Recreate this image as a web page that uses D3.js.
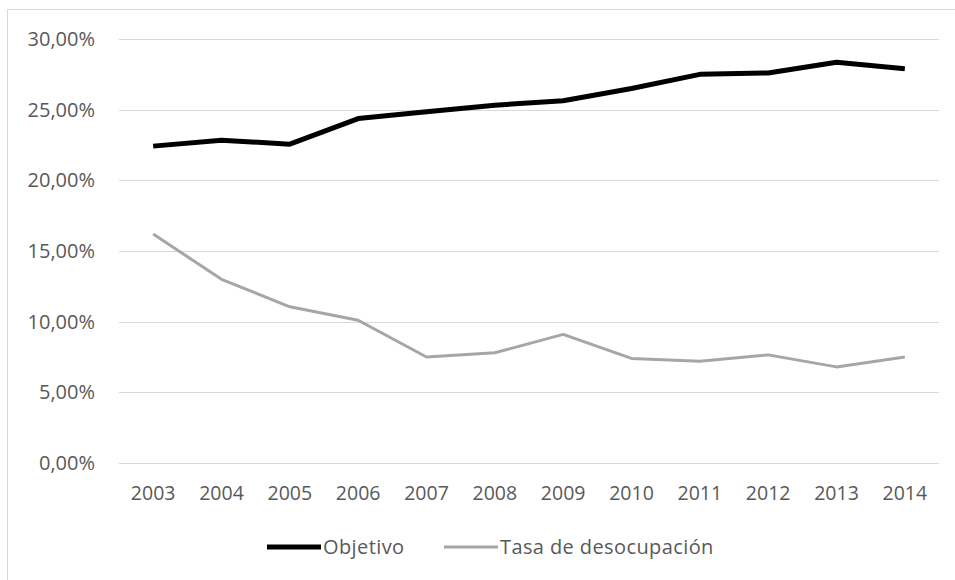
<!DOCTYPE html>
<html>
<head>
<meta charset="utf-8">
<script src="https://cdn.jsdelivr.net/npm/d3@7"></script>
<style>
  body { margin: 0; background: #fff; }
  svg text { font-family: "Open Sans", sans-serif; fill: #595959; }
</style>
</head>
<body>
<div id="chart"></div>
<script>
// --- Data ---
const years = ['2003', '2004', '2005', '2006', '2007', '2008', '2009', '2010', '2011', '2012', '2013', '2014'];
const objetivo = [22.42, 22.84, 22.56, 24.37, 24.85, 25.32, 25.63, 26.5, 27.5, 27.6, 28.35, 27.9];
const desocupacion = [16.2, 13.0, 11.05, 10.1, 7.5, 7.8, 9.1, 7.4, 7.2, 7.65, 6.8, 7.5];
const yTicks = [0, 5, 10, 15, 20, 25, 30];

const width = 955, height = 580;
const margin = { top: 39, right: 16, bottom: 117, left: 119 };

const svg = d3.select('#chart').append('svg')
  .attr('width', width)
  .attr('height', height);

// outer frame (only left/top edges visible in the source)
svg.append('rect')
  .attr('x', 7.5).attr('y', 9.5)
  .attr('width', width + 20).attr('height', height + 20)
  .attr('fill', 'none')
  .attr('stroke', '#d9d9d9');

const x = d3.scaleBand()
  .domain(years)
  .range([margin.left, width - margin.right]);

const y = d3.scaleLinear()
  .domain([0, 30])
  .range([height - margin.bottom, margin.top]);

const fmt = v => v.toFixed(2).replace('.', ',') + '%';

// gridlines
svg.append('g')
  .selectAll('line')
  .data(yTicks)
  .join('line')
  .attr('x1', x.range()[0])
  .attr('x2', x.range()[1])
  .attr('y1', d => Math.round(y(d)) + 0.5)
  .attr('y2', d => Math.round(y(d)) + 0.5)
  .attr('stroke', '#d9d9d9')
  .attr('stroke-width', 1.2);

// y labels
svg.append('g')
  .selectAll('text')
  .data(yTicks)
  .join('text')
  .attr('x', 95)
  .attr('y', d => y(d))
  .attr('dy', '0.35em')
  .attr('text-anchor', 'end')
  .style('font-size', '20px')
  .text(fmt);

// x labels
const xAxis = d3.axisBottom(x).tickSize(0).tickPadding(23);
const gx = svg.append('g')
  .attr('transform', `translate(0,${y(0)})`)
  .call(xAxis);
gx.select('.domain').remove();
gx.selectAll('text')
  .style('font-size', '19.5px')
  .style('font-family', '"Open Sans", sans-serif')
  .attr('fill', '#595959');

const line = d3.line()
  .x((d, i) => x(years[i]) + x.bandwidth() / 2)
  .y(d => y(d));

svg.append('path')
  .datum(desocupacion)
  .attr('fill', 'none')
  .attr('stroke', '#a6a6a6')
  .attr('stroke-width', 3)
  .attr('stroke-linejoin', 'round')
  .attr('d', line);

svg.append('path')
  .datum(objetivo)
  .attr('fill', 'none')
  .attr('stroke', '#000')
  .attr('stroke-width', 5)
  .attr('stroke-linejoin', 'round')
  .attr('d', line);

// legend
const legendItems = [
  { name: 'Objetivo', color: '#000', w: 5, x: 267 },
  { name: 'Tasa de desocupación', color: '#a6a6a6', w: 3, x: 444 }
];
const lg = svg.append('g').attr('transform', 'translate(0,547)');
legendItems.forEach(it => {
  lg.append('line')
    .attr('x1', it.x).attr('x2', it.x + 54)
    .attr('y1', 0).attr('y2', 0)
    .attr('stroke', it.color)
    .attr('stroke-width', it.w);
  lg.append('text')
    .attr('x', it.x + 56)
    .attr('y', 0)
    .attr('dy', '0.35em')
    .style('font-size', '20px')
    .style('letter-spacing', '0.4px')
    .text(it.name);
});
</script>
</body>
</html>
